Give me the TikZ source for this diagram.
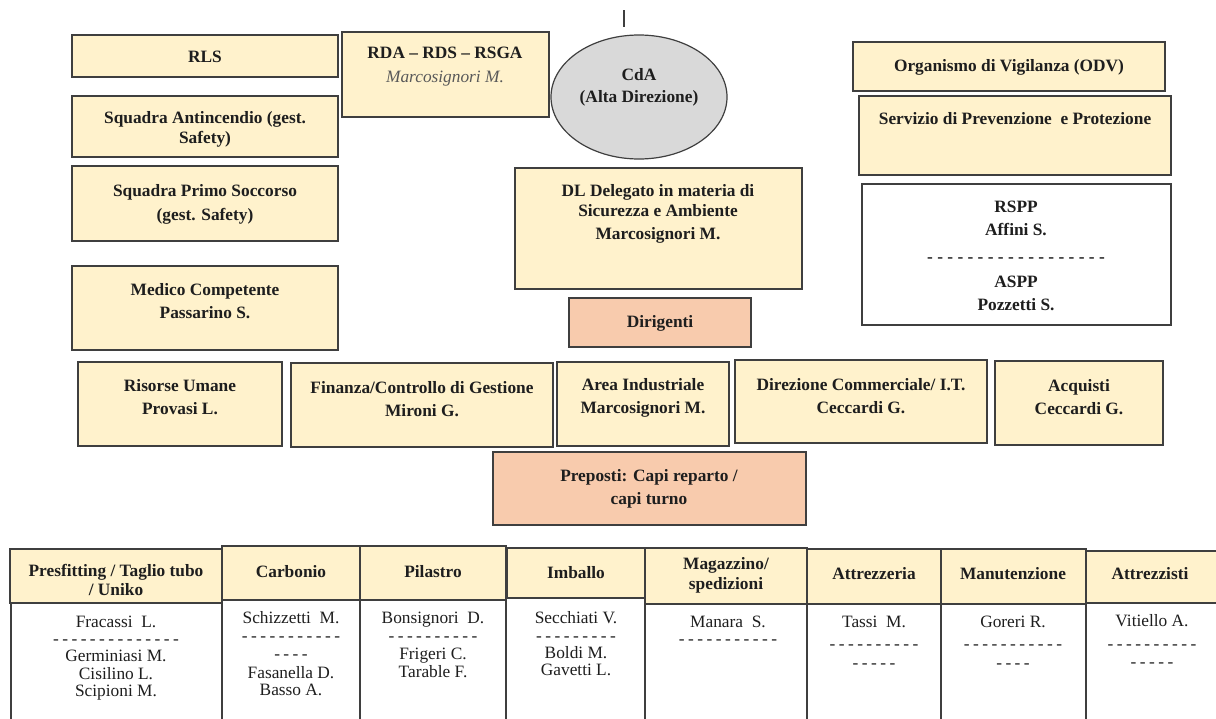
\documentclass[tikz,border=0pt]{standalone}
\usepackage{fontspec}
\setmainfont{Liberation Serif}
\usepackage{tikz}
\usetikzlibrary{shapes.geometric}

\definecolor{boxyellow}{HTML}{FFF2CC}
\definecolor{boxpeach}{HTML}{F8CBAD}
\definecolor{boxgray}{HTML}{D9D9D9}
\definecolor{edgegray}{HTML}{3F3F3F}
\definecolor{inkgray}{HTML}{1E1E1E}

% hyphen rows set a little tighter than normal spaces
\newcommand{\dashrow}[1]{{\spaceskip=0.2em\relax #1}}

\begin{document}
\begin{tikzpicture}[x=0.75pt,y=-0.75pt,
	ybox/.style={draw=edgegray, line width=0.9pt, fill=boxyellow},
	pbox/.style={ybox, fill=boxpeach},
	wbox/.style={draw=edgegray, line width=0.9pt, fill=white},
	lbl/.style={align=center, inner sep=0pt, text=inkgray, font=\fontsize{13}{17.5}\selectfont\bfseries},
	hlbl/.style={lbl, font=\fontsize{13}{13}\selectfont\bfseries},
	staff/.style={align=center, inner sep=0pt, text=inkgray, font=\fontsize{13}{13}\selectfont}]
				\useasboundingbox (0,0) rectangle (1216,718);
				\clip (0,0) rectangle (1216,718);
				% vertical stub above the board
				\coordinate (stubtop) at (624,10);
				\coordinate (stubend) at (624,27);
				\draw [edgegray, line width=0.9pt] (stubtop) -- (stubend);
				% left column
				\draw [ybox] (72,35) rectangle (338,77);
				\node [lbl] (rls) at (205,57) {RLS};
				\draw [ybox] (342,32) rectangle (549,117);
				\node [lbl] (rda) at (445,67) {RDA – RDS – RSGA\\[0.5pt] {\mdseries\itshape\color{black!65}Marcosignori M.}};
				\draw [ybox] (72,96) rectangle (338,157);
				\node [lbl] (antinc) at (205,129) {Squadra Antincendio (gest.\\[-2.5pt] Safety)};
				\draw [ybox] (72,166) rectangle (338,241);
				\node [lbl] (soccorso) at (205,204) {Squadra Primo Soccorso\\[0.5pt] (gest. Safety)};
				\draw [ybox] (72,266) rectangle (338,350);
				\node [lbl] (medico) at (205,301) {Medico Competente\\ Passarino S.};
				% board and delegates
				\node [ellipse, draw=edgegray, line width=0.9pt, fill=boxgray, inner sep=0pt, minimum width=132pt, minimum height=93pt] (cda) at (639,97) {};
				\node [lbl] (cdatxt) at (639,87) {CdA\\[-1pt] (Alta Direzione)};
				\draw [ybox] (515,168) rectangle (802,289);
				\node [lbl] (dl) at (658,214) {DL Delegato in materia di\\[-3pt] Sicurezza e Ambiente\\ Marcosignori M.};
				\draw [pbox] (569,298) rectangle (751,347);
				\node [lbl] (dirigenti) at (660,323) {Dirigenti};
				% right column
				\draw [ybox] (853,42) rectangle (1165,91);
				\node [lbl] (odv) at (1009,67) {Organismo di Vigilanza (ODV)};
				\draw [ybox] (859,96) rectangle (1171,175);
				\node [lbl] (spp) at (1015,119) {Servizio di Prevenzione\ \ e Protezione};
				\draw [wbox] (862,184) rectangle (1171,325);
				\node [lbl] (rspp) at (1016,256) {RSPP\\ Affini S.\\[2.5pt] - - - - - - - - - - - - - - - - - -\\[1pt] ASPP\\ Pozzetti S.};
				% functions
				\draw [ybox] (78,362) rectangle (282,446);
				\node [lbl] (risorse) at (180,397) {Risorse Umane\\ Provasi L.};
				\draw [ybox] (291,363) rectangle (553,447);
				\node [lbl] (finanza) at (422,399) {Finanza/Controllo di Gestione\\ Mironi G.};
				\draw [ybox] (557,362) rectangle (729,446);
				\node [lbl] (industriale) at (643,398) {Area Industriale\\ Marcosignori M.};
				\draw [ybox] (735,360) rectangle (987,443);
				\node [lbl] (commerciale) at (861,396) {Direzione Commerciale/ I.T.\\ Ceccardi G.};
				\draw [ybox] (995,361) rectangle (1163,445);
				\node [lbl] (acquisti) at (1079,397) {Acquisti\\ Ceccardi G.};
				\draw [pbox] (493,452) rectangle (806,525);
				\node [lbl] (preposti) at (649,489) {Preposti: Capi reparto /\\ capi turno};
				% departments: staff cells
				\draw [wbox] (11,603) rectangle (222,730);
				\draw [wbox] (222,600) rectangle (360,730);
				\draw [wbox] (360,600) rectangle (506,730);
				\draw [wbox] (506,598) rectangle (645,730);
				\draw [wbox] (645,604) rectangle (807,730);
				\draw [wbox] (807,604) rectangle (941,730);
				\draw [wbox] (941,604) rectangle (1086,730);
				\draw [wbox] (1086,603) rectangle (1230,730);
				% departments: headers
				\draw [ybox] (10,549) rectangle (222,603);
				\node [hlbl] (presfitting) at (116,580) {Presfitting / Taglio tubo\\[1.5pt] / Uniko};
				\draw [ybox] (222,546) rectangle (360,600);
				\node [hlbl] (carbonio) at (291,572) {Carbonio};
				\draw [ybox] (360,546) rectangle (506,600);
				\node [hlbl] (pilastro) at (433,572) {Pilastro};
				\draw [ybox] (507,548) rectangle (645,598);
				\node [hlbl] (imballo) at (576,573) {Imballo};
				\draw [ybox] (645,548) rectangle (807,604);
				\node [hlbl] (magazzino) at (726,575) {Magazzino/\\[2pt] spedizioni};
				\draw [ybox] (807,549) rectangle (941,604);
				\node [hlbl] (attrezzeria) at (874,574) {Attrezzeria};
				\draw [ybox] (941,549) rectangle (1086,604);
				\node [hlbl] (manutenzione) at (1013,574) {Manutenzione};
				\draw [ybox] (1086,551) rectangle (1230,603);
				\node [hlbl] (attrezzisti) at (1150,574) {Attrezzisti};
				% departments: names
				\node [staff] (presfittingstaff) at (116,658) {Fracassi\ \ L.\\ \dashrow{- - - - - - - - - - - - - -}\\ Germiniasi M.\\ Cisilino L.\\ Scipioni M.};
				\node [staff] (carboniostaff) at (291,654) {Schizzetti\ \ M.\\ \dashrow{- - - - - - - - - - -}\\[1pt] \dashrow{- - - -}\\[1pt] Fasanella D.\\ Basso A.};
				\node [staff] (pilastrostaff) at (433,645) {Bonsignori\ \ D.\\ \dashrow{- - - - - - - - - -}\\[1pt] Frigeri C.\\ Tarable F.};
				\node [staff] (imballostaff) at (576,644) {Secchiati V.\\ \dashrow{- - - - - - - - -}\\ Boldi M.\\ Gavetti L.};
				\node [staff] (magazzinostaff) at (728,630) {Manara\ \ S.\\ \dashrow{- - - - - - - - - - -}};
				\node [staff] (attrezzeriastaff) at (874,642) {Tassi\ \ M.\\[4pt] \dashrow{- - - - - - - - - -}\\[1pt] \dashrow{- - - - -}};
				\node [staff] (manutenzionestaff) at (1013,642) {Goreri R.\\[4pt] \dashrow{- - - - - - - - - - -}\\[1pt] \dashrow{- - - -}};
				\node [staff] (attrezzististaff) at (1152,641) {Vitiello A.\\[4pt] \dashrow{- - - - - - - - - -}\\[1pt] \dashrow{- - - - -}};
\end{tikzpicture}
\end{document}
